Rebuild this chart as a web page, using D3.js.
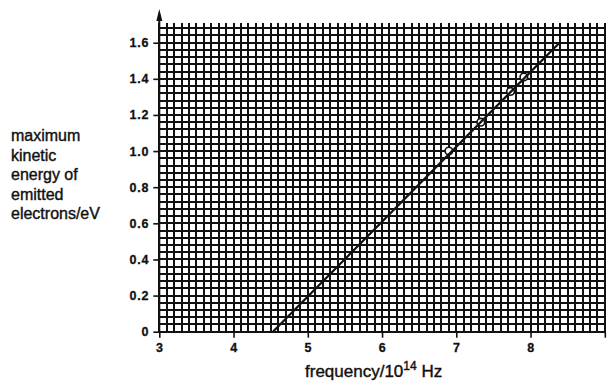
<!DOCTYPE html>
<html>
<head>
<meta charset="utf-8">
<script src="https://cdn.jsdelivr.net/npm/d3@7"></script>
<style>
  body { margin: 0; background: #fff; }
  svg { display: block; }
  text { fill: #111; }
</style>
</head>
<body>
<div id="chart"></div>
<script>
// data
var freq = [6.90, 7.33, 7.73, 7.91];          // 10^14 Hz
var energy = [1.00, 1.16, 1.33, 1.41];        // eV
var fitFreq = [4.53, 8.39];
var fitEnergy = [0, 1.6];
var xTicks = [3, 4, 5, 6, 7, 8, 9];
var xTickLabels = ["3", "4", "5", "6", "7", "8", ""];
var yTicks = [0, 0.2, 0.4, 0.6, 0.8, 1.0, 1.2, 1.4, 1.6];
var yTickLabels = ["0", "0.2", "0.4", "0.6", "0.8", "1.0", "1.2", "1.4", "1.6"];
var yLabelLines = ["maximum", "kinetic", "energy of", "emitted", "electrons/eV"];

var width = 610, height = 382;

var svg = d3.select("#chart")
    .append("svg")
    .attr("width", width)
    .attr("height", height);

var x = d3.scaleLinear().domain([3, 9]).range([159.3, 604.8]);
var y = d3.scaleLinear().domain([0, 1.6]).range([331.7, 42.7]);

//grid: 0.1 across, 0.04 up
var vLines = d3.range(30, 91).map(function(d) { return d / 10; });
var hLines = d3.range(0, 43).map(function(d) { return d * 0.04; });

var grid = svg.append("g").attr("class", "grid")
    .style("stroke", "#111")
    .style("stroke-width", 2)
    .style("shape-rendering", "crispEdges");

grid.selectAll(".v")
    .data(vLines)
    .enter().append("line")
    .attr("class", "v")
    .attr("x1", function(d) { return x(d); })
    .attr("x2", function(d) { return x(d); })
    .attr("y1", y(0))
    .attr("y2", y(1.71));

grid.selectAll(".h")
    .data(hLines)
    .enter().append("line")
    .attr("class", "h")
    .attr("x1", x(3))
    .attr("x2", x(9))
    .attr("y1", function(d) { return y(d); })
    .attr("y2", function(d) { return y(d); });

//y axis line + arrow
svg.append("line")
    .attr("x1", x(3)).attr("x2", x(3))
    .attr("y1", y(0)).attr("y2", 14)
    .style("stroke", "#111")
    .style("stroke-width", 2);

svg.append("path")
    .attr("d", "M" + x(3) + ",9 L" + (x(3) - 3) + ",21 L" + (x(3) + 3) + ",21 Z")
    .style("fill", "#111");

//axes
var xAxis = svg.append("g")
    .attr("transform", "translate(0," + y(0) + ")")
    .call(d3.axisBottom(x)
        .tickValues(xTicks)
        .tickSize(6)
        .tickPadding(5)
        .tickFormat(function(d, i) { return xTickLabels[i]; }));

var yAxis = svg.append("g")
    .attr("transform", "translate(" + x(3) + ",0)")
    .call(d3.axisLeft(y)
        .tickValues(yTicks)
        .tickSize(6)
        .tickPadding(4)
        .tickFormat(function(d, i) { return yTickLabels[i]; }));

[xAxis, yAxis].forEach(function(a) {
    a.select(".domain").remove();
    a.selectAll(".tick line").style("stroke", "#111").style("stroke-width", 1.6);
    a.selectAll(".tick text")
        .style("fill", "#111")
        .style("stroke", "#111")
        .style("stroke-width", 0.3)
        .style("font-family", "Liberation Sans, Arial, sans-serif")
        .style("font-weight", "bold")
        .style("font-size", "12.5px")
        .style("letter-spacing", "0.8px");
});

//measured points (under the line, as on the paper)
svg.selectAll(".pt")
    .data(d3.zip(freq, energy))
    .enter().append("circle")
    .attr("class", "pt")
    .attr("cx", function(d) { return x(d[0]); })
    .attr("cy", function(d) { return y(d[1]); })
    .attr("r", 3.8)
    .style("fill", "#fff")
    .style("stroke", "#111")
    .style("stroke-width", 1.6);

//fitted line
var line = d3.line()
    .x(function(d) { return x(d[0]); })
    .y(function(d) { return y(d[1]); });

svg.append("path")
    .datum(d3.zip(fitFreq, fitEnergy))
    .attr("d", line)
    .style("fill", "none")
    .style("stroke", "#111")
    .style("stroke-width", 2.2);

//axis titles
var xTitle = svg.append("text")
    .attr("x", 305)
    .attr("y", 377)
    .style("stroke", "#111")
    .style("stroke-width", 0.4)
    .style("font-family", "Liberation Sans, Arial, sans-serif")
    .style("font-size", "17px");
xTitle.append("tspan").text("frequency/10");
xTitle.append("tspan").attr("dy", -7).style("font-size", "12px").text("14");
xTitle.append("tspan").attr("dy", 7).text(" Hz");

svg.append("g")
    .selectAll("text")
    .data(yLabelLines)
    .enter().append("text")
    .attr("x", 11)
    .attr("y", function(d, i) { return 141 + i * 19.5; })
    .style("stroke", "#111")
    .style("stroke-width", 0.4)
    .style("font-family", "Liberation Sans, Arial, sans-serif")
    .style("font-size", "16px")
    .text(function(d) { return d; });
</script>
</body>
</html>
